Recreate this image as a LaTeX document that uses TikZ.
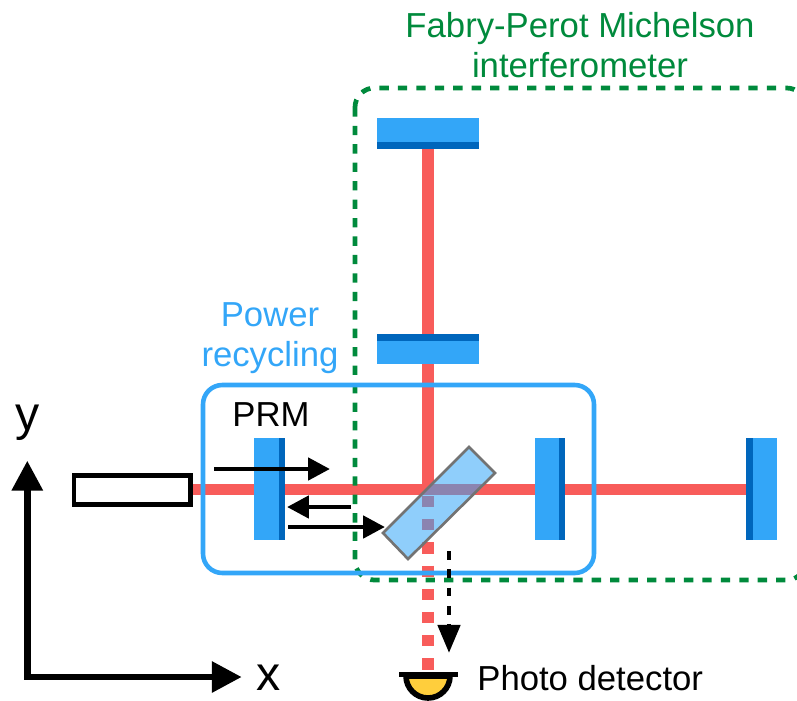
\documentclass[tikz,border=0pt]{standalone}
\usepackage{fontspec}
\setmainfont{Liberation Sans}
\usepackage{xcolor}
\usetikzlibrary{arrows.meta}
\definecolor{beamred}{HTML}{F85C5A}
\definecolor{mirblue}{HTML}{33A6F8}
\definecolor{mirdark}{HTML}{0066BC}
\definecolor{fpgreen}{HTML}{008A3C}
\definecolor{pdyellow}{HTML}{FFCE3C}
\tikzset{
  beam/.style={beamred,line width=6.8pt},
  mirbody/.style={fill=mirblue,draw=none},
  mirface/.style={fill=mirdark,draw=none},
  sig/.style={line width=2.8pt,-{Triangle[length=12.5pt,width=12.5pt]}},
  sigdash/.style={line width=2.8pt,dash pattern=on 5pt off 5.4pt,-{Triangle[length=16pt,width=12.5pt]}},
  axisline/.style={line width=3.7pt,{Triangle[length=17pt,width=17pt]}-{Triangle[length=17pt,width=17pt]}},
  lbl/.style={font=\fontsize{19.75}{22.7}\selectfont,align=center},
  axlbl/.style={font=\fontsize{27.5}{30}\selectfont,anchor=base,inner sep=0pt}
}
\begin{document}
\begin{tikzpicture}[x=0.02cm,y=-0.02cm]
\useasboundingbox (0,0) rectangle (797,700);
\coordinate (inj) at (192,489.5);
\coordinate (etmxface) at (746,489.5);
\coordinate (bsc) at (428,489.5);
\coordinate (etmyface) at (428,148);
\coordinate (pdtop) at (428,672);
% beams
\draw[beam] (inj) -- (etmxface);
\draw[beam] (bsc) ++(0,3.4) -- (etmyface);
\draw[beam,dash pattern=on 6.4pt off 6.8pt] (428,496) -- (pdtop);
% laser
\node[draw,line width=2.8pt,fill=white,minimum width=2.33cm,minimum height=0.58cm,inner sep=0pt] (laser) at (132.2,490) {};
% mirrors
\fill[mirbody] (254,438) rectangle (285,540);
\fill[mirface] (279,438) rectangle (285,540);
\fill[mirbody] (535,438) rectangle (565,540);
\fill[mirface] (559,438) rectangle (565,540);
\fill[mirbody] (746,438) rectangle (777,540);
\fill[mirface] (746,438) rectangle (753,540);
\fill[mirbody] (377,118) rectangle (479,149);
\fill[mirface] (377,142) rectangle (479,149);
\fill[mirbody] (377,334) rectangle (479,364);
\fill[mirface] (377,334) rectangle (479,341);
% beam splitter
\draw[draw=black!55,line width=1.5pt,fill=mirblue,fill opacity=0.55] (469,447) -- (495,473) -- (408,559) -- (383,533) -- cycle;
% boxes
\draw[fpgreen,line width=2.7pt,dash pattern=on 5.3pt off 5.2pt,rounded corners=11pt] (355,88) rectangle (806,580);
\draw[mirblue,line width=2.6pt,rounded corners=11pt] (203,385) rectangle (594,573);
\node[lbl,text=fpgreen] (fplabel) at (580,45) {Fabry-Perot Michelson\\interferometer};
\node[lbl,text=mirblue] (prlabel) at (270,338) {Power\\recycling};
\node[lbl] (prmlabel) at (271,415) {PRM};
% signal arrows
\coordinate (a1) at (214,469); \coordinate (a2) at (330,469);
\coordinate (b1) at (351,507); \coordinate (b2) at (287,507);
\coordinate (c1) at (288,527); \coordinate (c2) at (385,527);
\coordinate (d1) at (449,551); \coordinate (d2) at (449,653);
\draw[sig] (a1) -- (a2);
\draw[sig] (b1) -- (b2);
\draw[sig] (c1) -- (c2);
\draw[sigdash] (d1) -- (d2);
% detector
\draw[fill=pdyellow,line width=3.2pt] (406,676) arc[start angle=180,end angle=360,x radius=22,y radius=-22] -- cycle;
\draw[line width=2.8pt] (399,674.5) -- (458,674.5);
\node[lbl,anchor=base west,inner sep=0pt] (pdlabel) at (477,690) {Photo detector};
% axes
\coordinate (origin) at (27.3,677);
\coordinate (yend) at (27.3,460.7);
\coordinate (xend) at (241.7,677);
\draw[axisline] (yend) -- (origin) -- (xend);
\node[axlbl] (ylabel) at (28,430) {y};
\node[axlbl] (xlabel) at (269,690) {x};
\end{tikzpicture}
\end{document}
